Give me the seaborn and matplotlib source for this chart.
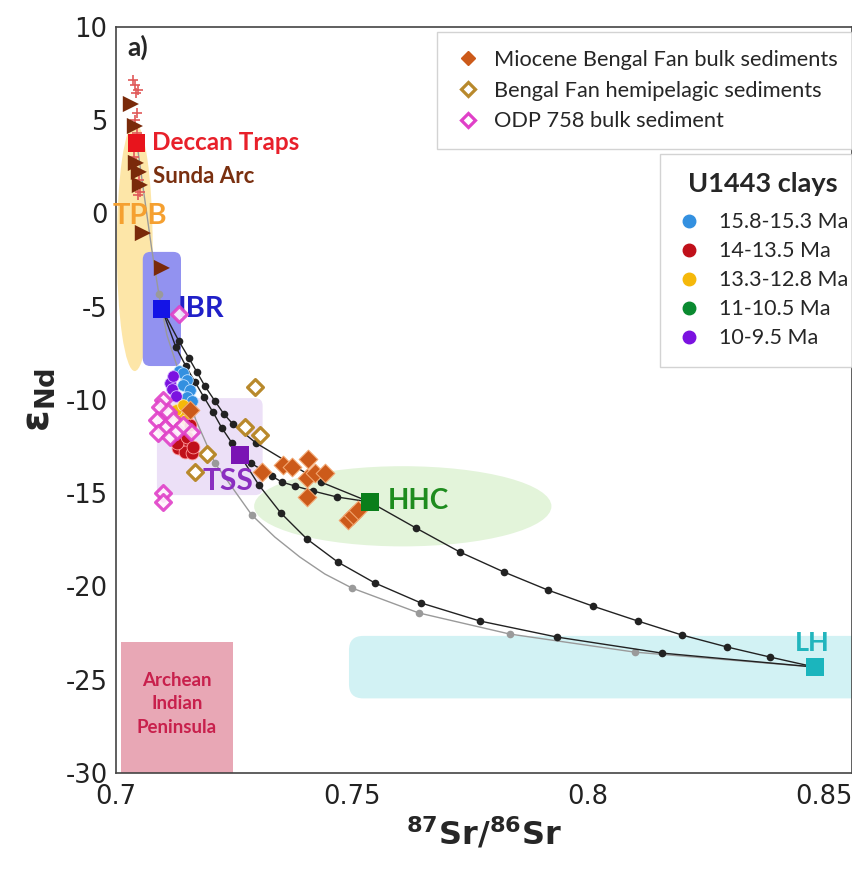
import numpy as np
import pandas as pd
import matplotlib
matplotlib.use("Agg")
import matplotlib.pyplot as plt
import seaborn as sns
from matplotlib.patches import Ellipse, FancyBboxPatch, Rectangle
from matplotlib.lines import Line2D
from matplotlib.ticker import MultipleLocator

# ---------------- data ----------------
# Sunda Arc (triangles)
sunda_x = [0.70318, 0.70403, 0.70424, 0.70487, 0.70508, 0.70572, 0.70975]
sunda_y = [5.87, 4.69, 2.71, 2.23, 1.53, -1.05, -2.92]
# Deccan Traps data (crosses)
deccan_x = [0.7036, 0.7040, 0.7046, 0.7042, 0.7044, 0.7040, 0.7038, 0.7042, 0.7046, 0.7052, 0.7049, 0.7044]
deccan_y = [7.16, 6.89, 6.62, 6.45, 5.39, 5.00, 3.03, 2.71, 0.99, 1.15, 1.80, 4.30]
# U1443 clays
blue_x = [0.71335, 0.71420, 0.71504, 0.71420, 0.71568, 0.71504, 0.71610]
blue_y = [-8.45, -8.55, -8.93, -9.20, -9.46, -9.84, -10.05]
purple_x = [0.71144, 0.71208, 0.71186, 0.71271]
purple_y = [-9.09, -8.71, -9.41, -9.79]
yellow_x = [0.71356, 0.71271, 0.71420, 0.71483]
yellow_y = [-10.91, -10.54, -10.27, -11.07]
red_x = [0.71398, 0.71525, 0.71314, 0.71462, 0.71610, 0.71292, 0.71504, 0.71631, 0.71568]
red_y = [-12.14, -12.41, -12.57, -12.79, -12.84, -12.30, -11.98, -12.52, -11.34]
# ODP 758 bulk sediment
odp_x = [0.71335, 0.70996, 0.70932, 0.71102, 0.70869, 0.71208, 0.71038, 0.70890,
         0.71144, 0.71292, 0.71589, 0.71420, 0.70996, 0.70996]
odp_y = [-5.39, -10.0, -10.38, -10.64, -11.07, -11.07, -11.50, -11.77,
         -11.98, -11.66, -11.72, -11.34, -14.99, -15.47]
# Bengal Fan hemipelagic sediments
hemi_x = [0.72945, 0.72733, 0.73051, 0.71928, 0.71674]
hemi_y = [-9.30, -11.45, -11.88, -12.90, -13.86]
# Miocene Bengal Fan bulk sediments
bulk_x = [0.71568, 0.73093, 0.73538, 0.73729, 0.74068, 0.74047, 0.74216, 0.74428,
          0.74047, 0.74915, 0.75021, 0.75127]
bulk_y = [-10.54, -13.86, -13.49, -13.59, -13.16, -14.18, -13.91, -13.91,
          -15.20, -16.43, -16.17, -15.90]
# end members
end_names = ["Deccan Traps", "IBR", "TSS", "HHC", "LH"]
end_x = [0.7044, 0.7097, 0.7263, 0.7538, 0.8481]
end_y = [3.77, -5.12, -12.95, -15.47, -24.32]
end_colors = ["#e8141c", "#1414e6", "#7a14b4", "#0a7e1a", "#1bb5bd"]

# mixing curves
c1_x = [0.70975, 0.71335, 0.71547, 0.71716, 0.71886, 0.72097, 0.72288, 0.72479, 0.72966, 0.74343, 0.75381]
c1_y = [-5.12, -6.84, -7.75, -8.50, -9.25, -10.05, -10.75, -11.29, -12.30, -14.40, -15.47]
c2_x = [0.72627, 0.72860, 0.73305, 0.73517, 0.73792, 0.74174, 0.74682, 0.75381]
c2_y = [-12.95, -13.38, -14.08, -14.40, -14.61, -14.88, -15.20, -15.47]
c3_x = [0.70975, 0.71271, 0.71483, 0.71674, 0.71864, 0.72055, 0.72246, 0.72458, 0.72627,
        0.73030, 0.73496, 0.74047, 0.74703, 0.75487, 0.76462, 0.77712, 0.79343, 0.81568, 0.84809]
c3_y = [-5.12, -7.16, -8.18, -9.03, -9.84, -10.64, -11.50, -12.30, -12.95,
        -14.56, -16.06, -17.45, -18.69, -19.81, -20.88, -21.85, -22.71, -23.57, -24.32]
c4_x = [0.75381, 0.76356, 0.77288, 0.78220, 0.79153, 0.80106, 0.81059, 0.81992, 0.82945, 0.83856, 0.84809]
c4_y = [-15.47, -16.86, -18.15, -19.22, -20.19, -21.05, -21.85, -22.60, -23.24, -23.78, -24.32]
gray_x = [0.70445, 0.70614, 0.70763, 0.70911, 0.71081, 0.71356, 0.71695, 0.72097, 0.72881,
          0.73369, 0.73898, 0.74428, 0.75000, 0.76420, 0.78347, 0.80996, 0.84809]
gray_y = [3.78, 0.72, -1.96, -4.32, -6.51, -8.66, -11.07, -13.38, -16.17,
          -17.35, -18.42, -19.33, -20.08, -21.42, -22.55, -23.52, -24.32]
gray_dots = [3, 7, 8, 12, 13, 14, 15]

# ---------------- style ----------------
sns.set_style("white")
plt.rcParams['font.family'] = ['DejaVu Sans']
plt.rcParams['axes.unicode_minus'] = False
LBL = ['Lato', 'DejaVu Sans']

fig = plt.figure(figsize=(8.52, 8.76), dpi=100)
ax = fig.add_axes([0.136, 0.1176, 0.864, 0.8516])
ax.set_xlim(0.7, 0.856)
ax.set_ylim(-30, 10)

ASP = (1 / 18.65) / (1 / 4720.0)

# ---------------- shaded fields ----------------
ax.add_patch(Ellipse((0.704, -1.8), 0.0076, 13.3, facecolor="#fde6a8", edgecolor="none", zorder=1))
ax.add_patch(FancyBboxPatch((0.7057, -8.18), 0.0081, 6.12,
                            boxstyle="round,pad=0,rounding_size=0.0016", mutation_aspect=ASP,
                            facecolor="#9292f0", edgecolor="none", zorder=1.1))
ax.add_patch(FancyBboxPatch((0.7087, -15.1), 0.0224, 5.2,
                            boxstyle="round,pad=0,rounding_size=0.0016", mutation_aspect=ASP,
                            facecolor="#ece0f7", edgecolor="none", zorder=1))
ax.add_patch(Ellipse((0.7608, -15.7), 0.063, 4.3, facecolor="#e3f4da", edgecolor="none", zorder=0.9))
ax.add_patch(FancyBboxPatch((0.7494, -26.0), 0.13, 3.35,
                            boxstyle="round,pad=0,rounding_size=0.0030", mutation_aspect=ASP,
                            facecolor="#d2f2f4", edgecolor="none", zorder=1))
ax.add_patch(Rectangle((0.7011, -30), 0.0237, 7.0, facecolor="#e8a7b5", edgecolor="none", zorder=1))

# ---------------- mixing curves ----------------
for cx, cy in [(c1_x, c1_y), (c2_x, c2_y), (c3_x, c3_y), (c4_x, c4_y)]:
    sns.lineplot(x=cx, y=cy, sort=False, estimator=None, color="#222222", lw=1.0,
                 marker="o", markersize=5.5, markeredgewidth=0, ax=ax, zorder=3)
sns.lineplot(x=gray_x, y=gray_y, sort=False, estimator=None, color="#9a9a9a", lw=1.0,
             marker="o", markersize=5.5, markeredgewidth=0, markevery=gray_dots, ax=ax, zorder=2.9)

# ---------------- data points ----------------
sns.scatterplot(x=deccan_x, y=deccan_y, marker="+", s=50, color="#e05a5a", linewidth=1.2, ax=ax, zorder=4)
sns.scatterplot(x=sunda_x, y=sunda_y, marker=">", s=135, color="#7a2a0a", edgecolor="none", ax=ax, zorder=4.1)

sns.scatterplot(x=hemi_x, y=hemi_y, marker="D", s=65, facecolor="white", edgecolor="#b8892c",
                linewidth=2.3, ax=ax, zorder=4)
sns.scatterplot(x=blue_x, y=blue_y, marker="o", s=70, color="#3390e0", edgecolor="#bfe0ff", linewidth=0.6, ax=ax, zorder=4.2)
sns.scatterplot(x=purple_x, y=purple_y, marker="o", s=70, color="#7b12e0", edgecolor="#d6b8ff", linewidth=0.6, ax=ax, zorder=4.3)
sns.scatterplot(x=yellow_x, y=yellow_y, marker="o", s=70, color="#f5b80a", edgecolor="#ffe9a8", linewidth=0.6, ax=ax, zorder=4.3)
sns.scatterplot(x=red_x, y=red_y, marker="o", s=85, color="#c0101a", edgecolor="#ff9a9a", linewidth=0.6, ax=ax, zorder=4.4)
sns.scatterplot(x=odp_x, y=odp_y, marker="D", s=65, facecolor="#fff4fc", edgecolor="#e040c8",
                linewidth=2.3, alpha=0.9, ax=ax, zorder=4.5)
sns.scatterplot(x=bulk_x, y=bulk_y, marker="D", s=90, color="#cc5a1a", edgecolor="#f2a670",
                linewidth=0.8, ax=ax, zorder=4.6)

sns.scatterplot(x=end_x, y=end_y, hue=end_names, palette=end_colors, marker="s", s=160,
                edgecolor="none", legend=False, ax=ax, zorder=6)

# ---------------- labels ----------------
ax.text(0.70254, 8.93, "a)", fontsize=19, fontweight="bold", va="center", ha="left", family=LBL, zorder=7)
ax.text(0.70763, 3.80, "Deccan Traps", color="#e8202a", fontsize=17.5, fontweight="bold", va="center", family=LBL, zorder=7)
ax.text(0.70784, 1.96, "Sunda Arc", color="#7a3010", fontsize=16, fontweight="bold", va="center", family=LBL, zorder=7)
ax.text(0.69936, -0.13, "TPB", color="#f5a030", fontsize=21, fontweight="bold", va="center", family=LBL,
        clip_on=False, zorder=7)
ax.text(0.71314, -5.12, "IBR", color="#2020c8", fontsize=21, fontweight="bold", va="center", family=LBL, zorder=4.4)
ax.text(0.71843, -14.34, "TSS", color="#8a2ec0", fontsize=21.5, fontweight="bold", va="center", family=LBL, zorder=7)
ax.text(0.75763, -15.40, "HHC", color="#1e8c1e", fontsize=20, fontweight="bold", va="center", family=LBL, zorder=7)
ax.text(0.84767, -23.03, "LH", color="#22b5bd", fontsize=19.5, fontweight="bold", va="center", ha="center", family=LBL, zorder=7)
ax.text(0.71292, -26.3, "Archean\nIndian\nPeninsula", color="#c8204c", fontsize=13.5, fontweight="bold",
        va="center", ha="center", linespacing=1.45, family=LBL, zorder=7)

# ---------------- axes ----------------
ax.xaxis.set_major_locator(MultipleLocator(0.05))
ax.yaxis.set_major_locator(MultipleLocator(5))
ax.yaxis.set_minor_locator(MultipleLocator(1))
ax.xaxis.set_major_formatter(matplotlib.ticker.FuncFormatter(lambda v, p: f"{v:g}"))
ax.tick_params(axis="both", which="major", direction="in", length=8, width=1, labelsize=18.5,
               color="#444444", labelcolor="#222222")
ax.tick_params(axis="both", which="minor", direction="in", length=4, width=1, color="#444444")
ax.tick_params(axis="x", pad=8)
ax.tick_params(axis="y", pad=6)
for sp in ax.spines.values():
    sp.set_color("#444444")
    sp.set_linewidth(1.2)

ax.set_xlabel(r"$^{\mathbf{87}}$Sr/$^{\mathbf{86}}$Sr", fontsize=23, fontweight="bold", labelpad=4)
ax.set_ylabel(r"$\mathbf{\varepsilon}_{\mathbf{Nd}}$", fontsize=28, labelpad=6)

# ---------------- legends ----------------
h1 = [Line2D([], [], ls="", marker="D", ms=7.5, mfc="#cc5a1a", mec="#cc5a1a"),
      Line2D([], [], ls="", marker="D", ms=7.5, mfc="white", mec="#b8892c", mew=2.3),
      Line2D([], [], ls="", marker="D", ms=7.5, mfc="white", mec="#e040c8", mew=2.3)]
l1 = ax.legend(h1, ["Miocene Bengal Fan bulk sediments", "Bengal Fan hemipelagic sediments",
                    "ODP 758 bulk sediment"],
               loc="upper left", bbox_to_anchor=(0.436, 0.993), borderaxespad=0, frameon=True, fancybox=False,
               edgecolor="#c8c8c8", prop={"family": LBL, "size": 15.7}, handletextpad=0.5,
               labelspacing=0.5, borderpad=0.8, handlelength=1.3)
l1.get_frame().set_linewidth(1.0)
l1.set_zorder(10)
ax.add_artist(l1)

clay_labels = ["15.8-15.3 Ma", "14-13.5 Ma", "13.3-12.8 Ma", "11-10.5 Ma", "10-9.5 Ma"]
clay_colors = ["#3390e0", "#c0101a", "#f5b80a", "#0a8a30", "#7b12e0"]
h2 = [Line2D([], [], ls="", marker="o", ms=9, mfc=c, mec=c) for c in clay_colors]
l2 = ax.legend(h2, clay_labels, loc="upper left", bbox_to_anchor=(0.739, 0.830), borderaxespad=0,
               frameon=True, fancybox=False, edgecolor="#c8c8c8", prop={"family": LBL, "size": 15.5},
               title="U1443 clays", title_fontproperties={"family": LBL, "size": 19.5, "weight": "bold"},
               handletextpad=0.9, labelspacing=0.42, borderpad=0.85, handlelength=1.0)
l2._legend_box.sep = 11.5
l2.get_frame().set_linewidth(1.0)
l2.set_zorder(10)

fig.savefig("out.png", dpi=100)
